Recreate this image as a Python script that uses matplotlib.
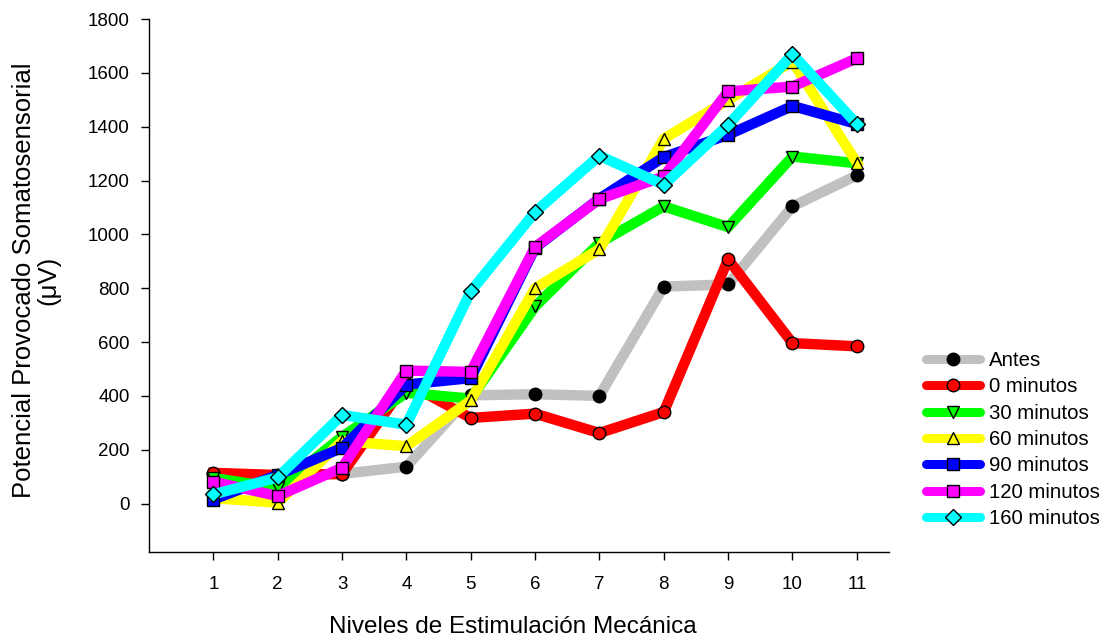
import matplotlib
matplotlib.use("Agg")
import matplotlib.pyplot as plt
from matplotlib.lines import Line2D

plt.rcParams['font.family'] = ['Liberation Sans', 'DejaVu Sans']

x = [1, 2, 3, 4, 5, 6, 7, 8, 9, 10, 11]
series_names = ["Antes", "0 minutos", "30 minutos", "60 minutos", "90 minutos", "120 minutos", "160 minutos"]
antes = [110, 100, 110, 137, 402, 406, 400, 806, 814, 1104, 1219]
min0 = [114, 106, 110, 448, 318, 334, 262, 340, 907, 596, 584]
min30 = [95, 58, 248, 411, 390, 732, 968, 1104, 1027, 1289, 1264]
min60 = [20, 3, 232, 213, 383, 800, 945, 1355, 1500, 1642, 1266]
min90 = [15, 106, 207, 442, 466, 950, 1133, 1287, 1370, 1477, 1410]
min120 = [81, 28, 133, 494, 489, 953, 1131, 1215, 1531, 1549, 1654]
min160 = [34, 97, 329, 293, 788, 1083, 1292, 1184, 1407, 1669, 1410]
values = [antes, min0, min30, min60, min90, min120, min160]
colors = ["#C0C0C0", "#FF0000", "#00FF00", "#FFFF00", "#0000FF", "#FF00FF", "#00FFFF"]
markers = ["o", "o", "v", "^", "s", "s", "D"]
mfaces = ["black", "#FF0000", "#00FF00", "#FFFF00", "#0000FF", "#FF00FF", "#00FFFF"]
msizes = [9, 9, 9, 9, 8.5, 8.5, 8]

yticks = [0, 200, 400, 600, 800, 1000, 1200, 1400, 1600, 1800]

fig = plt.figure(figsize=(11.05, 6.38), dpi=100)
ax = fig.add_axes([149/1105, 1 - 552/638, (889 - 149)/1105, (552 - 19)/638])

for name, vals, c, m, mf, ms in zip(series_names, values, colors, markers, mfaces, msizes):
    ax.plot(x, vals, color=c, lw=7.5, marker=m, markersize=ms, markerfacecolor=mf,
            markeredgecolor="black", markeredgewidth=1.0, solid_joinstyle="round",
            label=name)

ax.set_xlim(0, 11.5)
ax.set_ylim(-180, 1800)
ax.set_xticks(x)
ax.set_xticklabels([str(v) for v in x])
ax.set_yticks(yticks)
ax.set_yticklabels([str(v) for v in yticks])
for s in ["top", "right"]:
    ax.spines[s].set_visible(False)
for s in ["left", "bottom"]:
    ax.spines[s].set_linewidth(1.0)
ax.tick_params(direction="out", length=6, width=1.0, labelsize=13.5, colors="black", pad=8)
ax.tick_params(axis="x", pad=11)

fig.text(513/1105, 1 - 627/638, "Niveles de Estimulación Mecánica",
         ha="center", va="center", fontsize=17.5)
fig.text(36/1105, 1 - 280/638, "Potencial Provocado Somatosensorial\n(μV)",
         ha="center", va="center", rotation=90, fontsize=18.5, multialignment="center",
         linespacing=1.0)

handles = [Line2D([0], [0], color=c, lw=6.5, marker=m, markersize=ms, markerfacecolor=mf,
                  markeredgecolor="black", markeredgewidth=1.0, solid_capstyle="round")
           for c, m, mf, ms in zip(colors, markers, mfaces, msizes)]
fig.legend(handles, series_names, loc="upper left", bbox_to_anchor=(926/1105, 1 - 351/638),
           frameon=False, fontsize=14.7, handlelength=2.65, handletextpad=0.45,
           labelspacing=0.36, borderpad=0, borderaxespad=0)

fig.savefig("out.png", dpi=100)
